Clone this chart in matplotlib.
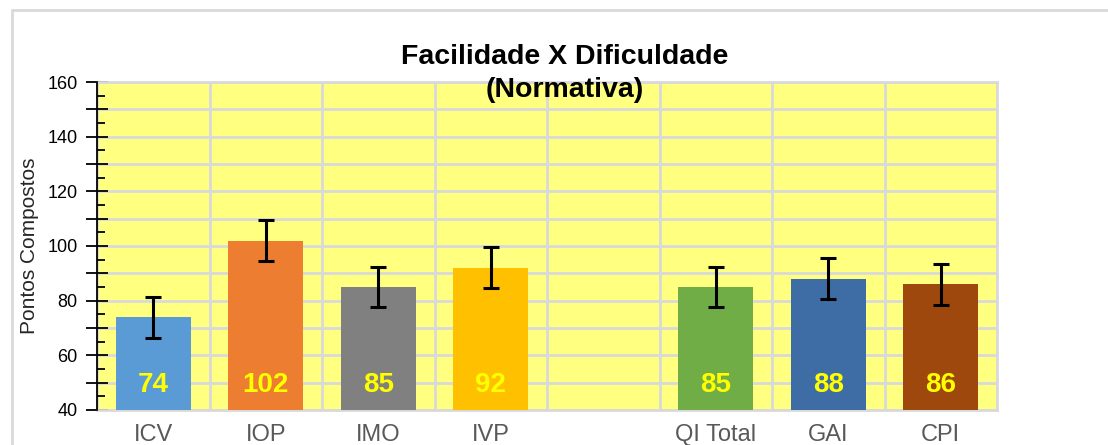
import numpy as np
import matplotlib.pyplot as plt
from matplotlib.patches import Rectangle

categories = ['ICV', 'IOP', 'IMO', 'IVP', '', 'QI Total', 'GAI', 'CPI']
scores = [74, 102, 85, 92, np.nan, 85, 88, 86]
errors = [7.5, 7.5, 7.5, 7.5, np.nan, 7.5, 7.5, 7.5]
bar_colors = ['#5B9BD5', '#ED7D31', '#808080', '#FFC000', 'none',
              '#70AD47', '#3E6CA5', '#9E480E']

plt.rcParams['font.family'] = ['Liberation Sans', 'DejaVu Sans']

fig = plt.figure(figsize=(11.08, 4.45), dpi=100)
fig.patch.set_facecolor('white')

# outer chart frame (light gray border)
frame = Rectangle((12 / 1108, -0.1), 1.2, (445 - 10) / 445 + 0.1,
                  transform=fig.transFigure, fill=False,
                  edgecolor='#D9D9D9', linewidth=2, zorder=0)
fig.patches.append(frame)

ax = fig.add_axes([97 / 1108, 35 / 445, 900 / 1108, 328 / 445])
ax.set_facecolor('#FFFF80')

x = np.arange(len(categories))
ax.bar(x, scores, width=0.667, bottom=0, color=bar_colors, zorder=3)
ax.errorbar(x, scores, yerr=errors, fmt='none', ecolor='black',
            elinewidth=2.2, capsize=5.5, capthick=2.2, zorder=4)

for xi, v in zip(x, scores):
    if np.isnan(v):
        continue
    ax.text(xi, 49, f'{v:.0f}', ha='center', va='center', color='#FFFF00',
            fontsize=20, fontweight='bold', zorder=5)

ax.set_xlim(-0.5, len(categories) - 0.5)
ax.set_ylim(40, 160)

ax.set_xticks(x)
ax.set_xticklabels(categories, fontsize=17, color='#595959')
ax.tick_params(axis='x', length=0, pad=10)
ax.set_xticks(np.arange(len(categories) + 1) - 0.5, minor=True)
ax.tick_params(axis='x', which='minor', length=0)

yt = np.arange(40, 161, 10)
ax.set_yticks(yt)
ax.set_yticklabels([str(v) if v % 20 == 0 else '' for v in yt], fontsize=13)
ax.set_yticks(np.arange(45, 160, 10), minor=True)
ax.tick_params(axis='y', which='major', direction='inout', length=16,
               width=1.3, pad=6)
ax.tick_params(axis='y', which='minor', direction='in', length=6, width=1.3)

ax.grid(axis='y', which='major', color='#D9D9D9', linewidth=2, zorder=1)
ax.grid(axis='x', which='minor', color='#D9D9D9', linewidth=2, zorder=1)
ax.set_axisbelow(True)

for s in ['top', 'right', 'bottom']:
    ax.spines[s].set_color('#D9D9D9')
    ax.spines[s].set_linewidth(2)
ax.spines['left'].set_color('black')
ax.spines['left'].set_linewidth(1.3)
ax.spines['left'].set_zorder(6)

ax.set_ylabel('Pontos Compostos', fontsize=15, color='#262626', labelpad=6)

fig.text(565 / 1108, 1 - 57 / 445, 'Facilidade X Dificuldade', ha='center',
         va='center', fontsize=20.5, fontweight='bold')
fig.text(565 / 1108, 1 - 90 / 445, '(Normativa)', ha='center',
         va='center', fontsize=20.5, fontweight='bold')

plt.savefig('out.png', dpi=100)
